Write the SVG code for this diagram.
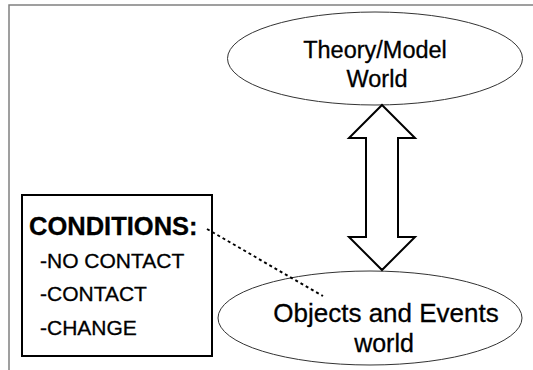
<svg xmlns="http://www.w3.org/2000/svg" width="533" height="370" viewBox="0 0 533 370">
  <style>
    .frame { fill: none; stroke: #808080; stroke-width: 1.5; }
    .ell { fill: #ffffff; stroke: #333333; stroke-width: 1; }
    .box { fill: #ffffff; stroke: #000000; stroke-width: 2; }
    .lbl { font-family: "Liberation Sans", Arial, sans-serif; fill: #000000; stroke: #000000; stroke-width: 0.3; }
    .big { font-size: 23.5px; text-anchor: middle; }
    .item { font-size: 21px; }
    .head { font-size: 25.5px; font-weight: bold; }
    .arrow { fill: #ffffff; stroke: #000000; stroke-width: 2; stroke-linejoin: miter; }
    .dots { fill: none; stroke: #000000; stroke-width: 2; stroke-dasharray: 3 3; }
  </style>

  <rect width="533" height="370" fill="#ffffff"/>
  <!-- slide frame edges -->
  <polyline class="frame" points="533,5 9,5 9,370"/>

  <g id="theory-world">
    <ellipse class="ell" cx="375" cy="58.5" rx="147.5" ry="46.5"/>
    <text class="lbl big" x="375" y="58">Theory/Model</text>
    <text class="lbl big" x="377" y="87">World</text>
  </g>

  <g id="objects-world">
    <ellipse class="ell" cx="370" cy="318" rx="152" ry="47"/>
    <text class="lbl big" x="386" y="322" style="font-size:26px">Objects and Events</text>
    <text class="lbl big" x="384" y="352" style="font-size:25px">world</text>
  </g>

  <g id="conditions">
    <rect class="box" x="22" y="195" width="190" height="161"/>
    <text class="lbl head" x="29" y="235">CONDITIONS:</text>
    <text class="lbl item" x="40" y="268">-NO CONTACT</text>
    <text class="lbl item" x="40" y="301">-CONTACT</text>
    <text class="lbl item" x="40" y="335">-CHANGE</text>
  </g>

  <g id="connectors">
    <!-- two-headed block arrow between the worlds -->
    <polygon class="arrow" points="382,105 415,138 398,138 398,237 415,237 382,270 349,237 366,237 366,138 349,138"/>
    <!-- dotted link from the conditions label -->
    <line class="dots" x1="207" y1="229" x2="323" y2="296"/>
  </g>
</svg>
